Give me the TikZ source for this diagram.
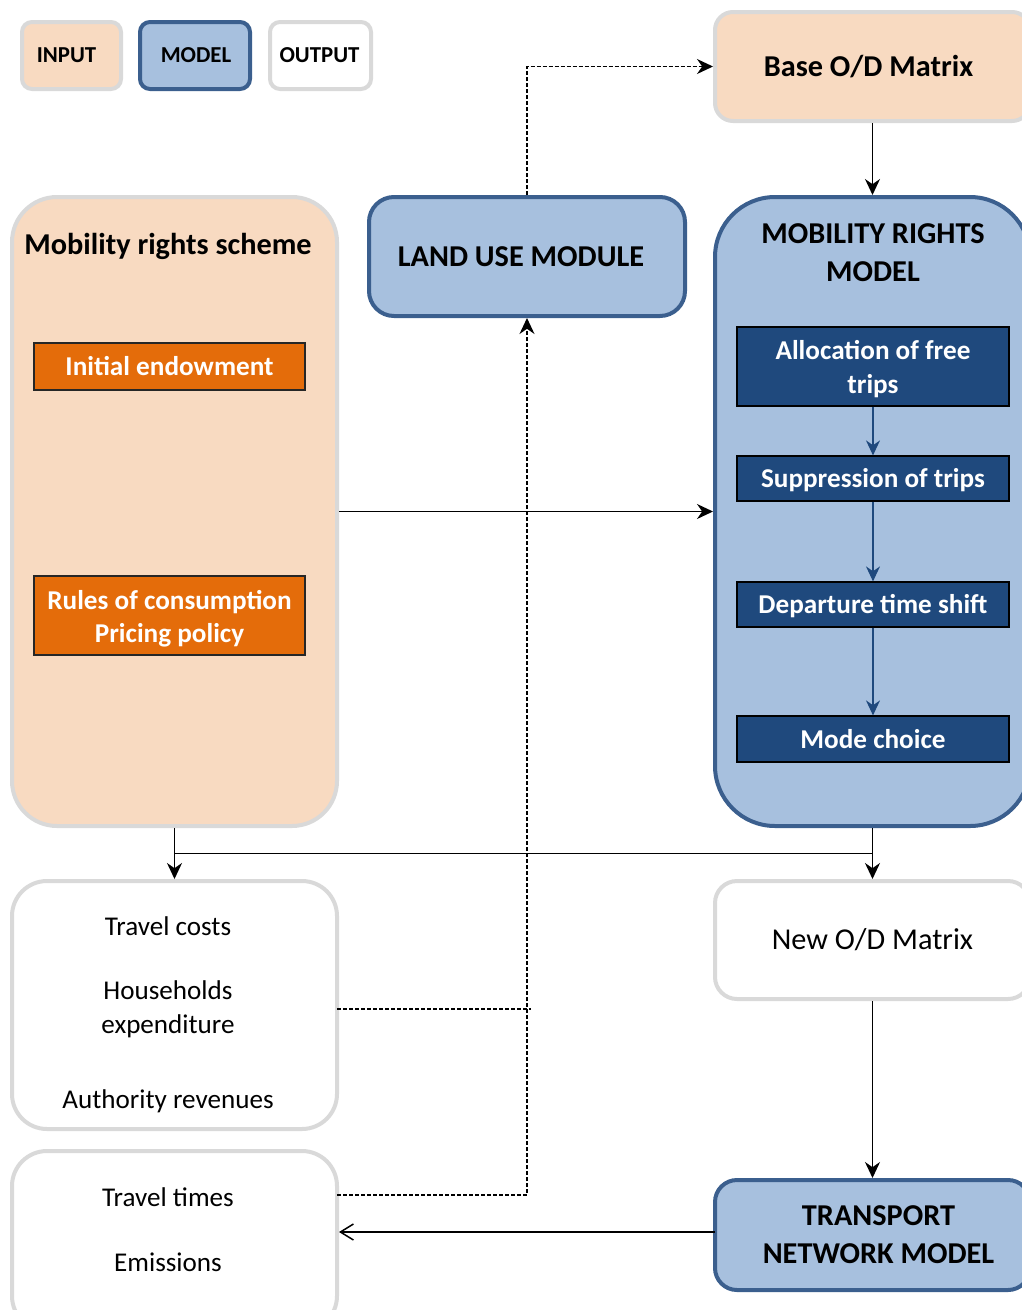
\documentclass[tikz,border=0pt]{standalone}
\usepackage{fontspec}
\setmainfont{Carlito}
\usetikzlibrary{arrows.meta,calc}
\definecolor{peach}{HTML}{F8DAC1}
\definecolor{lgray}{HTML}{D9D9D9}
\definecolor{mblue}{HTML}{A7C0DE}
\definecolor{dblue}{HTML}{3B5F8E}
\definecolor{navy}{HTML}{1F497D}
\definecolor{orng}{HTML}{E46C0A}
\newcommand{\fs}[2]{\fontsize{#1}{#2}\selectfont}
\tikzset{
  box/.style={rectangle, line width=4pt, align=center, inner sep=0pt},
  inbox/.style={box, fill=peach, draw=lgray},
  modbox/.style={box, fill=mblue, draw=dblue},
  outbox/.style={box, fill=white, draw=lgray},
  orbox/.style={rectangle, fill=orng, draw=black!85, line width=1.2pt, text=white, align=center, inner sep=0pt, font=\bfseries\fs{27.2}{33}},
  dkbox/.style={rectangle, fill=navy, draw=black, line width=1.2pt, text=white, align=center, inner sep=0pt, font=\bfseries\fs{27.2}{34}},
  arr/.style={line width=1.5pt, -{Stealth[length=16pt,width=15pt]}},
  darr/.style={line width=1.3pt, dash pattern=on 4pt off 2pt},
  narr/.style={line width=1.3pt, draw=navy, -{Stealth[length=15pt,width=14pt]}},
}
\begin{document}
\begin{tikzpicture}[x=1pt,y=-1pt]
\path[use as bounding box] (0,0) rectangle (1022,1310);
\clip (0,0) rectangle (1022,1310);
% legend
\node[inbox, rounded corners=10pt, minimum width=99pt, minimum height=67pt, font=\bfseries\fs{22.8}{26}] (legIn) at (71.5,55.5) {\hspace*{-10pt}INPUT};
\node[modbox, rounded corners=10pt, minimum width=110pt, minimum height=67pt, font=\bfseries\fs{22.8}{26}] (legMod) at (195,55.5) {\hspace*{2pt}MODEL};
\node[outbox, rounded corners=10pt, minimum width=101pt, minimum height=67pt, font=\bfseries\fs{22.8}{26}] (legOut) at (320.5,55.5) {\hspace*{-2pt}OUTPUT};
% top right
\node[inbox, rounded corners=18pt, minimum width=315pt, minimum height=109pt, font=\bfseries\fs{30.3}{36}] (base) at (872.5,66.5) {\hspace*{-8pt}Base O/D Matrix};
% mobility rights scheme
\node[inbox, rounded corners=45pt, minimum width=325pt, minimum height=629pt] (mrs) at (174.5,511.5) {};
\node[font=\bfseries\fs{30.3}{34}] (mrsT) at (168,246) {Mobility rights scheme};
\node[orbox, minimum width=271pt, minimum height=47pt] (init) at (169.5,366.5) {Initial endowment};
\node[orbox, minimum width=271pt, minimum height=79pt] (rules) at (169.5,615.5) {\rule{0pt}{26pt}Rules of consumption\\Pricing policy};
% land use
\node[modbox, rounded corners=25pt, minimum width=316pt, minimum height=119pt, font=\bfseries\fs{30.3}{34}] (lum) at (527,256.5) {\hspace*{-12pt}LAND USE MODULE};
% mobility rights model
\node[modbox, rounded corners=60pt, minimum width=315pt, minimum height=629pt] (mrm) at (872.5,511.5) {};
\node[font=\bfseries\fs{30.3}{38}, align=center] (mrmT) at (873,253) {MOBILITY RIGHTS\\MODEL};
\node[dkbox, minimum width=272pt, minimum height=79pt] (alloc) at (873,366.5) {\rule{0pt}{25pt}Allocation of free\\trips};
\node[dkbox, minimum width=272pt, minimum height=45pt] (supp) at (873,478.5) {\rule{0pt}{23pt}Suppression of trips};
\node[dkbox, minimum width=272pt, minimum height=45pt] (dep) at (873,604.5) {\rule{0pt}{23pt}Departure time shift};
\node[dkbox, minimum width=272pt, minimum height=46pt] (mode) at (873,739) {\rule{0pt}{20pt}Mode choice};
% outputs
\node[outbox, rounded corners=35pt, minimum width=325pt, minimum height=248pt] (out1) at (174.5,1005) {};
\node[font=\fs{27.1}{34}, align=center] (o1a) at (168,926) {Travel costs};
\node[font=\fs{27.1}{34}, align=center] (o1b) at (168,1009) {Households\\expenditure};
\node[font=\fs{27.1}{34}, align=center] (o1c) at (168,1101) {Authority revenues};
\node[outbox, rounded corners=35pt, minimum width=325pt, minimum height=180pt] (out2) at (174.5,1241) {};
\node[font=\fs{27.1}{34}] (o2a) at (168,1197) {Travel times};
\node[font=\fs{27.1}{34}] (o2b) at (168,1262) {Emissions};
\node[outbox, rounded corners=22pt, minimum width=315pt, minimum height=118pt, font=\fs{30.3}{34}] (newod) at (872.5,940) {New O/D Matrix};
\node[modbox, rounded corners=22pt, minimum width=315pt, minimum height=110pt, font=\bfseries\fs{30.3}{38}] (tnm) at (872.5,1235) {\hspace*{12pt}TRANSPORT\\\hspace*{12pt}NETWORK MODEL};
% connectors
\draw[arr] (base.south -| mrm.north) -- (mrm.north);
\draw[darr, -{Stealth[length=16pt,width=15pt]}] (lum.north) |- (base.west);
\draw[arr] (mrs.east) -- (mrm.west);
\draw[narr] (alloc) -- (supp);
\draw[narr] (supp) -- (dep);
\draw[narr] (dep) -- (mode);
\coordinate (jL) at ($(mrs.south)!0.5!(out1.north)$);
\coordinate (jR) at ($(mrm.south)!0.5!(newod.north)$);
\draw[line width=1.5pt] (jL) -- (jR);
\draw[arr] (mrs.south) -- (out1.north);
\draw[arr] (mrm.south) -- (newod.north);
\draw[arr] (newod.south) -- (tnm.north);
\coordinate (tw) at (715,1232);
\draw[line width=1.5pt, -{Straight Barb[length=13pt,width=16pt]}] (tw) -- (tw -| out2.east);
\coordinate (d1) at (337,1009);
\coordinate (d2) at (337,1195);
\draw[darr] (d1) -- (lum.south |- d1) -- ++(4,0);
\draw[darr, -{Stealth[length=16pt,width=15pt]}] (d2) -| (lum.south);
\end{tikzpicture}
\end{document}
